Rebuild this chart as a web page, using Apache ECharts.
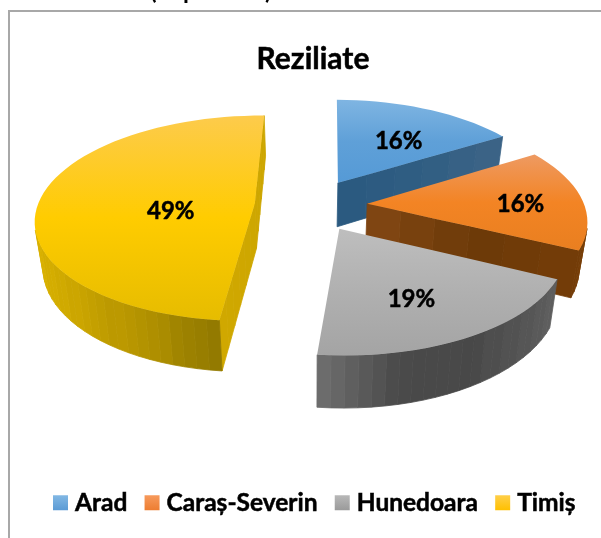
<!DOCTYPE html>
<html><head><meta charset="utf-8">
<style>html,body{margin:0;padding:0;background:#fff}#c{width:601px;height:538px}</style>
<script src="https://cdn.jsdelivr.net/npm/echarts@6/dist/echarts.min.js"></script>
</head><body><div id="c"></div>
<script>
const categories = ['Arad', 'Caraș-Severin', 'Hunedoara', 'Timiș'];
const values = [16, 16, 19.45, 48.55];
const chartTitle = 'Reziliate';

// Look of each slice
const FONT = 'Lato';
const topStops = [
  ['#7FB5E2', '#5FA0D8', '#559AD6'],
  ['#EE9A62', '#F38424', '#E97F20'],
  ['#BEBEBE', '#B0B0B0', '#A4A4A4'],
  ['#FDCB4C', '#FFCC00', '#E6BC00']
];
const legendStops = [
  ['#82B8E4', '#5B9BD5'], ['#F79A5C', '#ED7D31'], ['#B8B8B8', '#9A9A9A'], ['#FFCF4A', '#FFC000']
];
const sideStops = [
  ['#2B5A80', '#2F5D82', '#3B6386'],
  ['#7F4512', '#6C3A08', '#733C08'],
  ['#6A6A6A', '#6A6A6A'],
  ['#D0A800', '#CDA600']
];
const rimStops = [
  ['#3B6386', '#3B6386'],
  ['#733C08', '#7A4008'],
  ['#6C6C6C', '#4A4A4A', '#484848', '#5E5E5E'],
  ['#D8B000', '#B89600', '#937A00']
];
const labelNudge = [[3, 6], [20, 4], [-4, 7], [49, 11]];

// Projection of the tilted disc
const CX = 311, CY = 205, CY_BASE = 250, R = 217, S = 101, K = 0.144, EXPLODE = 0.26;
const FIRST_ANGLE = 0.7 * Math.PI / 180;
const BASE_X = 0.97, BASE_Y = 1.05, MIN_SIDE_AREA = 60;
function project(u, v, base) {
  const w = 1 - K * v;
  return base
    ? [CX + BASE_X * R * u / w, CY_BASE + BASE_Y * S * v / w]
    : [CX + R * u / w, CY + S * v / w];
}
function hex(c) { return [1, 3, 5].map(i => parseInt(c.substr(i, 2), 16)); }
function ramp(stops, t) {
  t = Math.max(0, Math.min(1, t));
  const p = t * (stops.length - 1), i = Math.min(stops.length - 2, Math.floor(p)), f = p - i;
  const a = hex(stops[i]), b = hex(stops[i + 1]);
  return 'rgb(' + a.map((x, k) => Math.round(x + (b[k] - x) * f)).join(',') + ')';
}
function grad(stops) {
  return new echarts.graphic.LinearGradient(0, 0, 0, 1,
    stops.map((c, i) => ({ offset: i / (stops.length - 1), color: c })));
}
function area(p) {
  let s = 0;
  p.forEach((a, i) => { const b = p[(i + 1) % p.length]; s += a[0] * b[1] - b[0] * a[1]; });
  return s / 2;
}
const total = values.reduce((a, b) => a + b, 0);
function sliceItem(idx) {
  let before = 0;
  for (let i = 0; i < idx; i++) before += values[i];
  const a0 = FIRST_ANGLE + before / total * 2 * Math.PI, a1 = FIRST_ANGLE + (before + values[idx]) / total * 2 * Math.PI;
  const mid = (a0 + a1) / 2, ox = EXPLODE * Math.sin(mid), oy = -EXPLODE * Math.cos(mid);
  const pt = (r, a) => [ox + r * Math.sin(a), oy - r * Math.cos(a)];
  const edges = [];
  const n = Math.max(2, Math.round((a1 - a0) / (3 * Math.PI / 180)));
  const RAD = 6;
  for (let i = 0; i < RAD; i++) edges.push([pt(i / RAD, a0), pt((i + 1) / RAD, a0), 'side']);
  for (let i = 0; i < n; i++) edges.push([pt(1, a0 + (a1 - a0) * i / n), pt(1, a0 + (a1 - a0) * (i + 1) / n), 'rim']);
  for (let i = RAD; i > 0; i--) edges.push([pt(i / RAD, a1), pt((i - 1) / RAD, a1), 'side']);
  const top = edges.map(e => project(e[0][0], e[0][1], false));
  const children = [];
  const quads = edges.map(e => {
    const p = project(e[0][0], e[0][1], false), q = project(e[1][0], e[1][1], false);
    const pb = project(e[0][0], e[0][1], true), qb = project(e[1][0], e[1][1], true);
    return { pts: [p, q, qb, pb], kind: e[2] };
  }).filter(o => area(o.pts) < (o.kind === 'side' ? -MIN_SIDE_AREA : 0));
  ['side', 'rim'].forEach(kind => {
    const group = quads.filter(o => o.kind === kind);
    if (!group.length) return;
    const mx = o => (o.pts[0][0] + o.pts[1][0]) / 2;
    const xs = group.map(mx), lo = Math.min(...xs), hi = Math.max(...xs);
    const stops = kind === 'side' ? sideStops[idx] : rimStops[idx];
    group.forEach(o => {
      const t = hi > lo ? (mx(o) - lo) / (hi - lo) : 0;
      const c = ramp(stops, Math.round(t * 16) / 16);
      children.push({ type: 'polygon', shape: { points: o.pts }, style: { fill: c, stroke: c, lineWidth: 0.8 } });
    });
  });
  children.push({ type: 'polygon', shape: { points: top }, style: { fill: grad(topStops[idx]) } });
  const lp = project(ox + 0.62 * Math.sin(mid), oy - 0.62 * Math.cos(mid), false);
  children.push({
    type: 'text',
    style: {
      x: lp[0] + labelNudge[idx][0], y: lp[1] + labelNudge[idx][1],
      text: Math.round(values[idx] / total * 100) + '%',
      fill: '#000', font: 'bold 24px ' + FONT, align: 'center', verticalAlign: 'middle',
      stroke: '#000', lineWidth: 0.5
    }
  });
  return { type: 'group', children };
}

const chart = echarts.init(document.getElementById('c'), null, { renderer: 'canvas' });
chart.setOption({
  animation: false,
  backgroundColor: '#fff',
  title: {
    text: chartTitle, left: 308, top: 39, textAlign: 'center',
    textStyle: { fontFamily: FONT, fontWeight: 'bold', fontSize: 30, color: '#000', textBorderColor: '#000', textBorderWidth: 0.5 }
  },
  legend: {
    left: 48, top: 485, itemWidth: 15, itemHeight: 15, itemGap: 17, icon: 'rect',
    textStyle: { fontFamily: FONT, fontWeight: 'bold', fontSize: 24.5, color: '#000', textBorderColor: '#000', textBorderWidth: 0.5, padding: [0, 0, 0, 2] },
    data: categories.map((name, i) => ({ name, itemStyle: { color: grad(legendStops[i]) } }))
  },
  graphic: [
    { type: 'rect', shape: { x: 9, y: 11, width: 900, height: 900 }, style: { fill: 'none', stroke: '#A8A8A8', lineWidth: 2 } },
    { type: 'text', style: { x: 150, y: -21, text: '(', font: 'bold 24px ' + FONT, fill: '#000' } },
    { type: 'text', style: { x: 183, y: -21, text: 'p', font: 'bold 24px ' + FONT, fill: '#000' } },
    { type: 'text', style: { x: 265, y: -21, text: ')', font: 'bold 24px ' + FONT, fill: '#000' } }
  ],
  series: categories.map((name, i) => ({
    type: 'custom', name, coordinateSystem: 'none',
    itemStyle: { color: legendStops[i][1] },
    data: [values[i]],
    silent: true,
    renderItem: () => sliceItem(i)
  }))
});
</script></body></html>
